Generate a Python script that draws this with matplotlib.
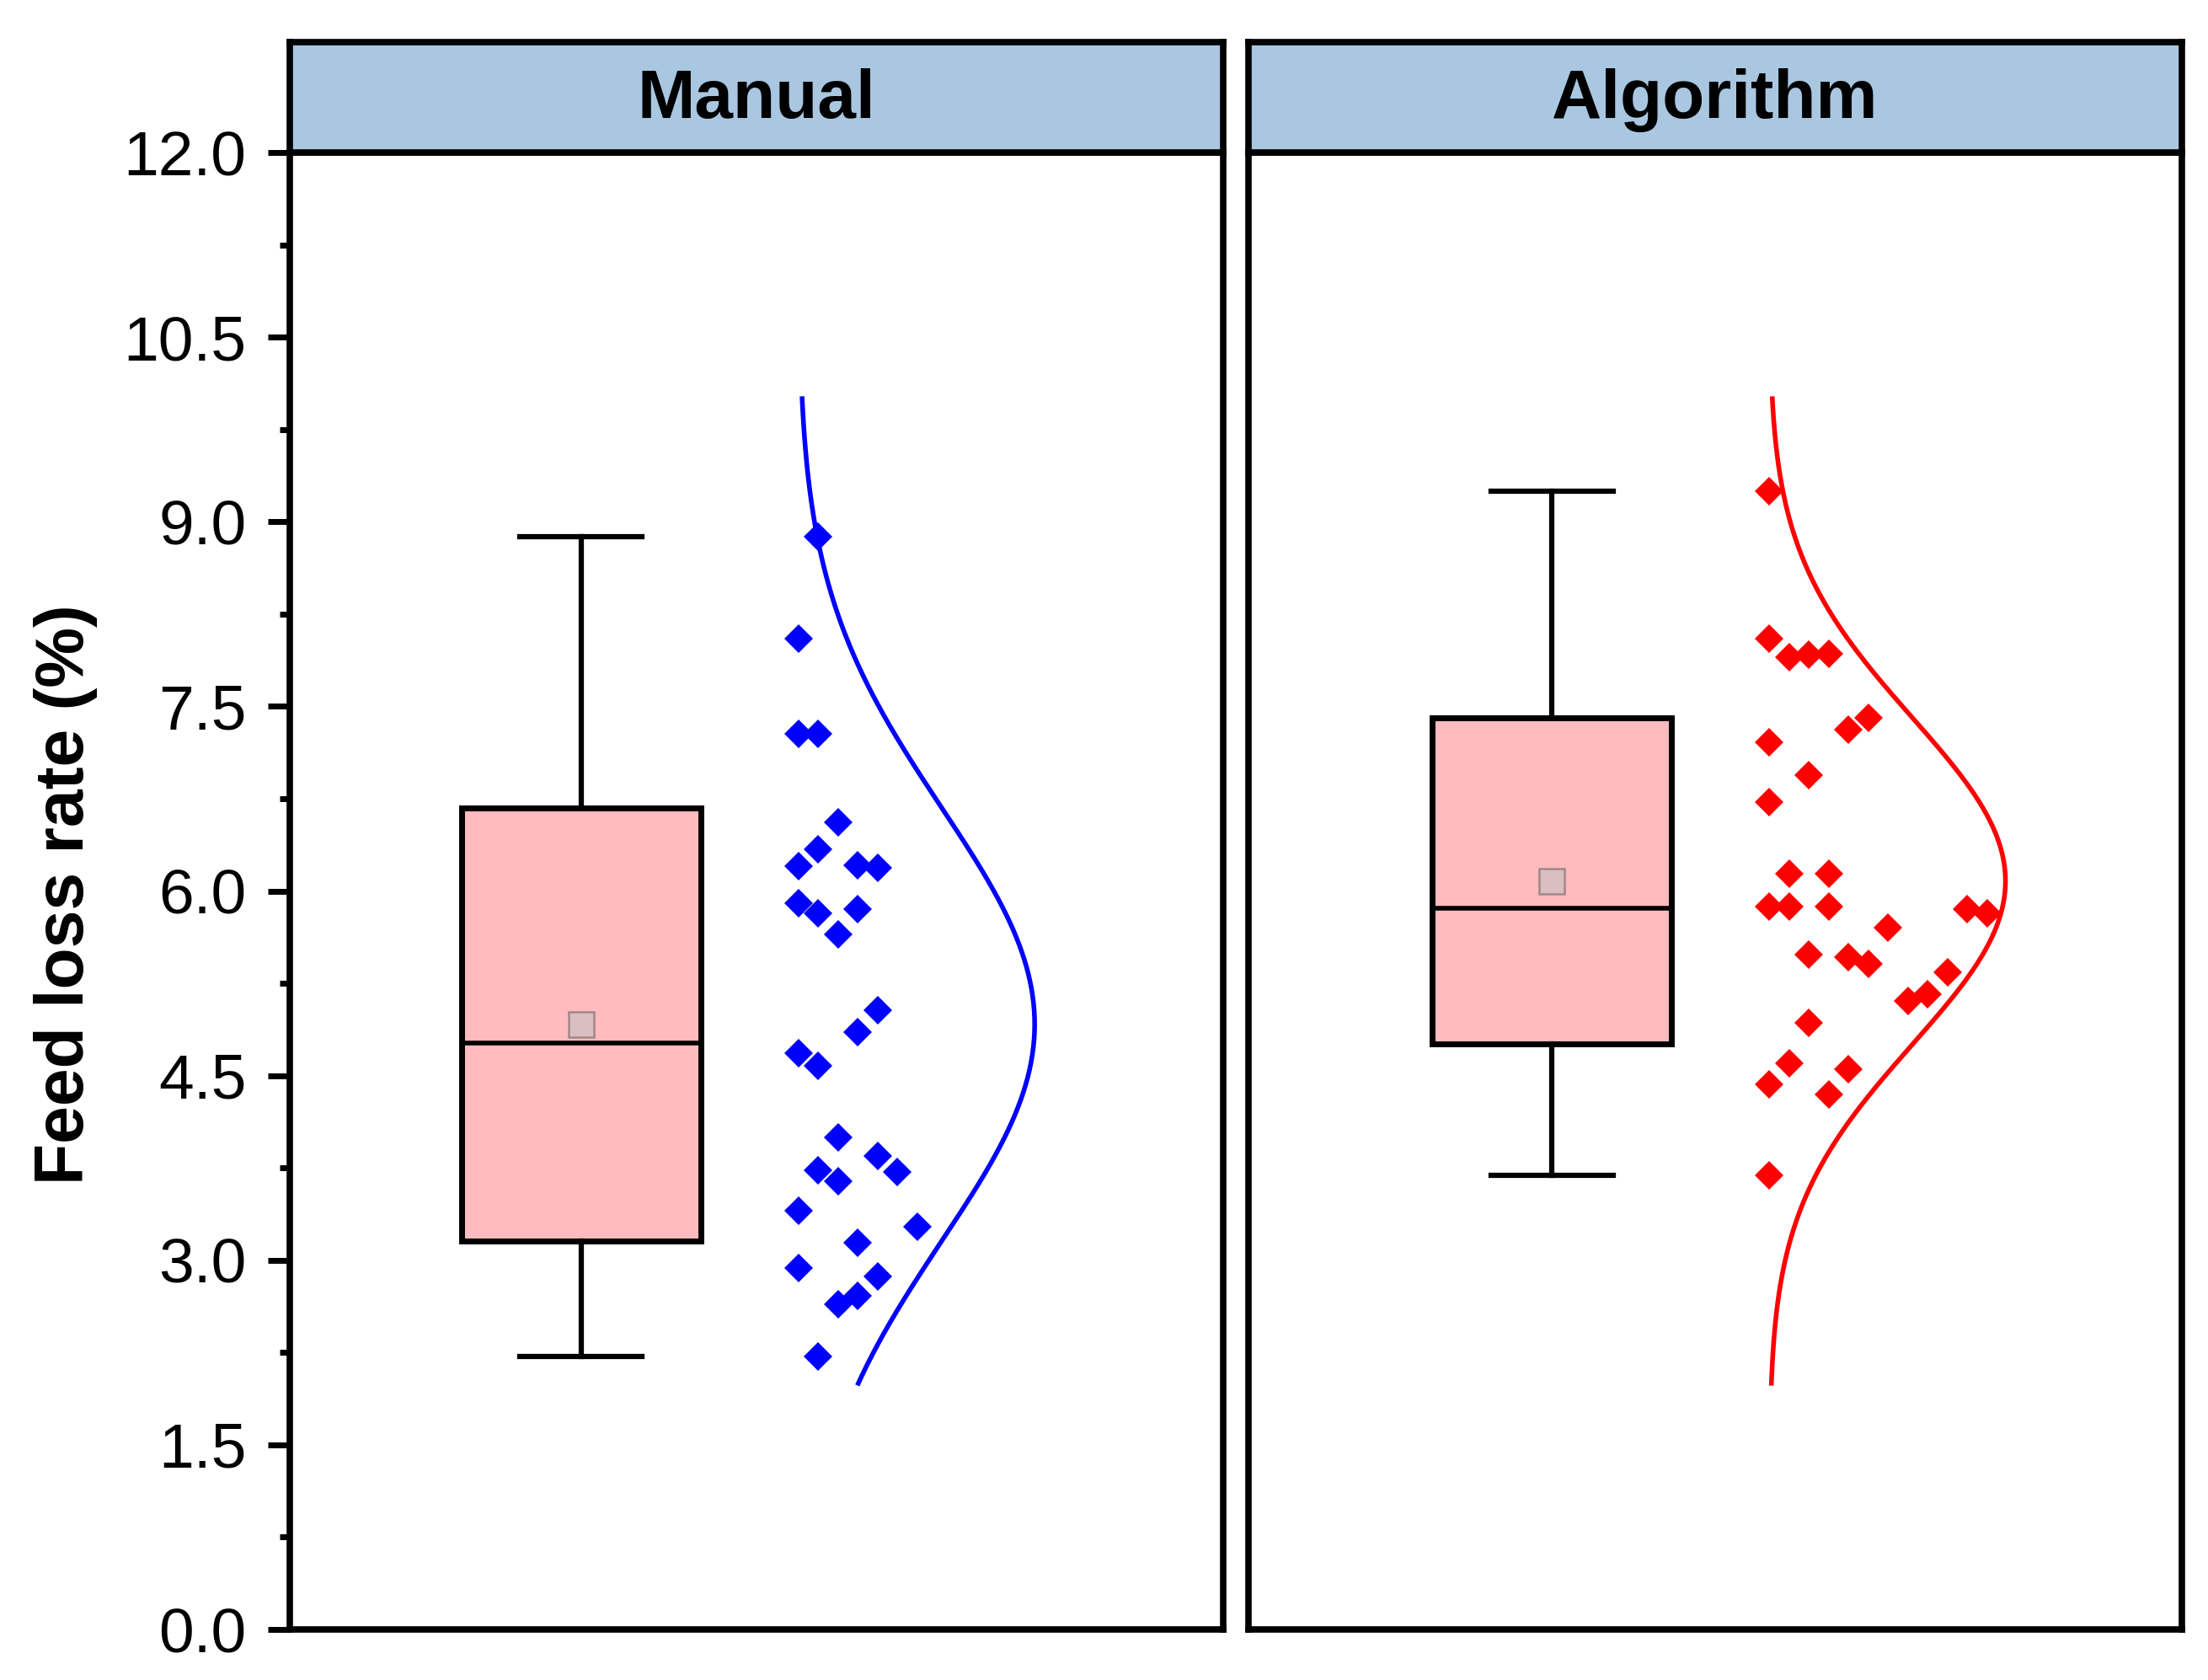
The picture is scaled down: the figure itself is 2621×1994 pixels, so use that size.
import numpy as np
import matplotlib
matplotlib.use("Agg")
import matplotlib.pyplot as plt
from matplotlib.ticker import MultipleLocator, FormatStrFormatter

plt.rcParams['font.family'] = ['Liberation Sans', 'DejaVu Sans']

# data (feed loss rate, %)
manual_vals = [8.88, 8.05, 7.28, 7.28, 6.56, 6.34, 6.20, 6.21, 6.19, 5.90,
               5.82, 5.85, 5.65, 5.03, 4.85, 4.68, 4.58, 4.00, 3.85, 3.73,
               3.64, 3.72, 3.40, 3.27, 3.14, 2.94, 2.87, 2.71, 2.64, 2.22]
# jitter column of each point (0 = leftmost)
manual_col = [1, 0, 0, 1, 2, 1, 0, 3, 4, 0,
              1, 3, 2, 4, 3, 0, 1, 2, 4, 1,
              2, 5, 0, 6, 3, 0, 4, 3, 2, 1]

algo_vals = [9.25, 8.05, 7.90, 7.92, 7.93, 7.41, 7.31, 7.21, 6.94, 6.72,
             6.14, 6.14, 5.87, 5.87, 5.87, 5.70, 5.85, 5.82, 5.48, 5.46,
             5.41, 5.34, 5.16, 5.11, 4.93, 4.60, 4.55, 4.43, 4.35, 3.69]
algo_col = [0, 0, 1, 2, 3, 5, 4, 0, 2, 0,
            1, 3, 0, 1, 3, 6, 10, 11, 2, 4,
            5, 9, 8, 7, 2, 1, 4, 0, 3, 0]

groups = ["Manual", "Algorithm"]
point_colors = ["#0000FF", "#FF0000"]
curve_range = (2.0, 10.0)

W, H = 2621, 1994
fig = plt.figure(figsize=(W / 100, H / 100), dpi=100)

panel_left = [344 / W, 1482 / W]
panel_w = 1108 / W
ax_bottom = 1 - 1934 / H
ax_h = (1934 - 181) / H
strip_h = (181 - 50) / H

shift = [0.003, 0.016]   # small horizontal offset of content in each panel
box_x = 0.309
pts_x0 = 0.542
pts_dx = 0.0212
curve_amp = 0.253
lw_frame = 5.5

for i, (name, vals, cols, col) in enumerate(zip(groups, [manual_vals, algo_vals],
                                              [manual_col, algo_col], point_colors)):
    ax = fig.add_axes([panel_left[i], ax_bottom, panel_w, ax_h])
    v = np.array(vals)
    m, sd = v.mean(), v.std(ddof=1)
    dx = shift[i]

    stats = [dict(med=np.median(v), q1=m - sd, q3=m + sd,
                  whislo=v.min(), whishi=v.max(), mean=m, fliers=[])]
    ax.bxp(stats, positions=[box_x + dx], widths=0.256, capwidths=[0.131],
           showmeans=True, patch_artist=True,
           boxprops=dict(facecolor="#FFBBBD", edgecolor="black", linewidth=5),
           whiskerprops=dict(color="black", linewidth=4.5),
           capprops=dict(color="black", linewidth=4.5),
           medianprops=dict(color="black", linewidth=4),
           meanprops=dict(marker="s", markersize=22, markerfacecolor="#D9BFC1",
                          markeredgecolor="#A08888", markeredgewidth=1.8))

    xs = pts_x0 + dx + pts_dx * np.array(cols)
    ax.plot(xs, v, linestyle="none", marker="D", markersize=17.5,
            color=col, markeredgewidth=0, zorder=4)

    yy = np.linspace(curve_range[0], curve_range[1], 400)
    xx = pts_x0 + dx + curve_amp * np.exp(-0.5 * ((yy - m) / sd) ** 2)
    ax.plot(xx, yy, color=col, linewidth=4, zorder=3)

    ax.set_xlim(0, 1)
    ax.set_ylim(0, 12)
    ax.set_xticks([])
    for s in ax.spines.values():
        s.set_linewidth(lw_frame)
    if i == 0:
        ax.yaxis.set_major_locator(MultipleLocator(1.5))
        ax.yaxis.set_minor_locator(MultipleLocator(0.75))
        ax.yaxis.set_major_formatter(FormatStrFormatter("%.1f"))
        ax.tick_params(axis="y", which="major", length=19, width=5, labelsize=54, pad=18)
        ax.tick_params(axis="y", which="minor", length=9, width=5)
    else:
        ax.set_yticks([])

    sax = fig.add_axes([panel_left[i], ax_bottom + ax_h, panel_w, strip_h])
    sax.set_facecolor("#A9C7E1")
    sax.set_xticks([])
    sax.set_yticks([])
    for s in sax.spines.values():
        s.set_linewidth(lw_frame)
    sax.text(0.5, 0.47, name, ha="center", va="center", fontsize=59,
             fontweight="bold", transform=sax.transAxes)

fig.text(78 / W, 1 - 1062 / H, "Feed loss rate (%)", rotation=90, ha="center",
         va="center", fontsize=58, fontweight="bold")

fig.savefig("out.png", dpi=100)
